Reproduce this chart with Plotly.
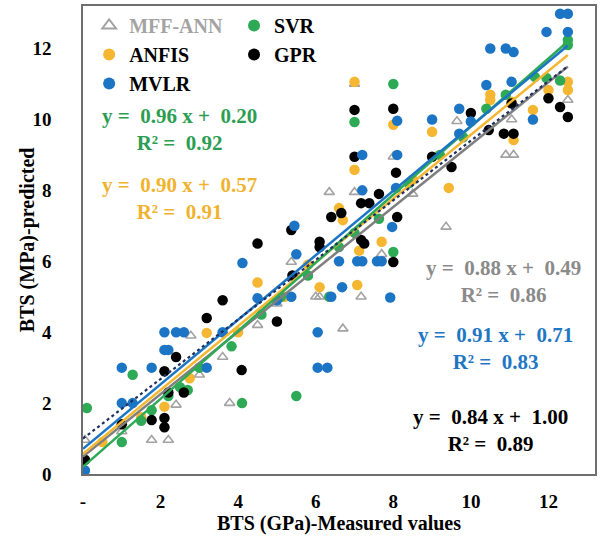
import numpy as np
import plotly.graph_objects as go

# ---------------- data ----------------
MFF_X = [0.05, 1.0, 1.77, 2.2, 2.4, 3.0, 3.78, 2.78, 3.6, 4.5, 5.0, 5.37, 6.0, 6.1, 6.35, 6.7, 7.0, 7.0, 7.17, 7.7, 8.0, 8.5, 9.36, 9.64, 10.9, 11.05, 11.1, 12.5]
MFF_Y = [0.96, 1.2, 0.96, 0.96, 1.95, 2.8, 2.0, 3.9, 3.3, 4.2, 4.8, 5.98, 5.0, 5.0, 7.95, 4.1, 7.95, 11.0, 5.0, 6.2, 8.95, 7.9, 6.97, 9.95, 9.0, 10.0, 9.0, 10.55]

SVR_X = [0.1, 1.0, 1.28, 1.77, 2.5, 2.7, 3.83, 4.1, 5.5, 3.0, 4.6, 5.1, 5.8, 6.35, 6.6, 7.0, 7.63, 8.0, 7.0, 8.0, 8.4, 9.2, 9.8, 10.4, 10.9, 11.65, 11.95, 12.3, 12.5, 12.5, 1.5, 2.2]
SVR_Y = [1.86, 0.9, 2.8, 1.8, 2.45, 2.37, 3.6, 2.0, 2.2, 3.0, 4.5, 5.0, 5.6, 5.0, 6.4, 6.8, 7.2, 6.26, 9.93, 11.0, 8.2, 9.0, 9.5, 10.3, 10.7, 11.2, 11.17, 11.1, 12.24, 12.1, 1.5, 2.2]

ANFIS_X = [0.5, 1.5, 2.1, 2.75, 3.19, 4.0, 4.5, 5.2, 5.8, 6.1, 6.6, 6.7, 7.0, 7.0, 7.07, 7.12, 7.7, 8.0, 8.5, 9.0, 9.43, 10.5, 10.5, 11.05, 11.1, 11.6, 12.0, 12.5, 12.5]
ANFIS_Y = [0.9, 1.6, 1.9, 2.7, 3.98, 4.0, 5.4, 5.0, 5.9, 5.27, 7.5, 7.16, 11.06, 8.58, 5.33, 6.3, 6.55, 9.85, 8.3, 9.65, 8.07, 10.7, 10.55, 10.5, 9.42, 10.27, 10.83, 11.06, 10.83]

GPR_X = [0.05, 1.0, 1.77, 2.1, 2.1, 2.2, 2.6, 2.1, 2.4, 3.19, 3.6, 4.09, 4.5, 5.0, 5.37, 5.4, 6.1, 6.1, 6.4, 6.66, 7.0, 8.0, 7.0, 8.07, 7.63, 7.17, 7.38, 8.1, 7.17, 7.25, 8.0, 9.0, 9.5, 10.0, 10.46, 10.85, 11.1, 11.05, 12.0, 12.3, 12.5]
GPR_Y = [0.4, 1.4, 1.52, 1.58, 1.32, 2.3, 2.3, 2.9, 3.3, 4.4, 4.9, 2.93, 6.5, 4.3, 6.88, 5.6, 6.55, 6.4, 7.25, 7.36, 10.27, 10.3, 8.95, 8.5, 7.9, 7.64, 7.64, 7.25, 6.6, 6.5, 5.98, 8.95, 8.66, 10.18, 9.7, 9.6, 9.6, 10.45, 10.6, 10.35, 10.07]

MVLR_X = [0.05, 1.0, 1.0, 1.28, 1.77, 2.1, 2.4, 2.6, 3.6, 2.1, 2.2, 3.19, 4.11, 4.5, 5.0, 5.5, 5.45, 6.05, 6.05, 6.3, 5.37, 6.4, 6.68, 6.6, 7.07, 7.2, 7.58, 7.7, 7.97, 7.92, 7.2, 8.07, 7.2, 8.1, 8.1, 9.0, 9.7, 10.0, 9.7, 10.4, 11.05, 10.5, 10.9, 11.1, 11.6, 11.95, 12.3, 12.5, 12.5]
MVLR_Y = [0.1, 3.0, 2.0, 2.0, 3.0, 4.0, 4.0, 4.0, 4.0, 3.5, 3.5, 3.0, 5.95, 4.96, 4.9, 6.2, 7.0, 4.0, 3.0, 3.0, 5.0, 5.0, 5.27, 6.0, 6.0, 6.0, 6.0, 6.0, 6.97, 4.98, 8.0, 8.07, 9.0, 9.0, 9.96, 10.0, 10.3, 9.94, 9.6, 10.97, 11.06, 12.0, 12.0, 11.9, 10.0, 12.47, 12.98, 12.98, 12.47]

# trendline coefficients (as printed on the chart)
MODELS = ["MFF-ANN", "SVR", "ANFIS", "GPR", "MVLR"]
SLOPES = [0.88, 0.96, 0.90, 0.84, 0.91]
INTERCEPTS = [0.49, 0.20, 0.57, 1.00, 0.71]
R2 = [0.86, 0.92, 0.91, 0.89, 0.83]
FIT_RANGE = [0.0, 12.5]

X_TICKS = [0, 2, 4, 6, 8, 10, 12]
X_TICKTEXT = ["-", "2", "4", "6", "8", "10", "12"]
Y_TICKS = [0, 2, 4, 6, 8, 10, 12]

# ---------------- styles ----------------
FONT = "Liberation Serif, Times New Roman, serif"
COL = {
    "MFF-ANN": "#a3a3a3",
    "SVR": "#2eaa57",
    "ANFIS": "#f5b731",
    "GPR": "#000000",
    "MVLR": "#1c75c4",
}
TXT_COL = {
    "MFF-ANN": "#8a8a8a",
    "SVR": "#2c9e52",
    "ANFIS": "#f0b330",
    "GPR": "#000000",
    "MVLR": "#1f77c4",
}
LINE_COL = {
    "MFF-ANN": "#7f7f7f",
    "SVR": "#2eaa57",
    "ANFIS": "#f5b731",
    "GPR": "#1f2f5f",
    "MVLR": "#1c75c4",
}

fig = go.Figure()

data = {
    "MFF-ANN": (MFF_X, MFF_Y),
    "SVR": (SVR_X, SVR_Y),
    "ANFIS": (ANFIS_X, ANFIS_Y),
    "GPR": (GPR_X, GPR_Y),
    "MVLR": (MVLR_X, MVLR_Y),
}

legend_of = {"MFF-ANN": "legend", "ANFIS": "legend", "MVLR": "legend", "SVR": "legend2", "GPR": "legend2"}
rank_of = {"MFF-ANN": 1, "ANFIS": 2, "MVLR": 3, "SVR": 1, "GPR": 2}

draw_order = ["MFF-ANN", "ANFIS", "SVR", "GPR", "MVLR"]
for name in draw_order:
    xs, ys = data[name]
    if name == "MFF-ANN":
        marker = dict(symbol="triangle-up-open", size=9, color=COL[name], line=dict(width=1.6, color=COL[name]))
        label = '<span style="color:#a3a3a3">MFF-ANN</span>'
    else:
        marker = dict(symbol="circle", size=10.5, color=COL[name], line=dict(width=0))
        label = name
    fig.add_trace(go.Scatter(
        x=xs, y=ys, mode="markers", marker=marker, name=label,
        legend=legend_of[name], legendrank=rank_of[name],
    ))

# trendlines
line_order = ["MFF-ANN", "ANFIS", "SVR", "MVLR", "GPR"]
xf = np.array(FIT_RANGE)
for name in line_order:
    i = MODELS.index(name)
    yf = SLOPES[i] * xf + INTERCEPTS[i]
    fig.add_trace(go.Scatter(
        x=xf, y=yf, mode="lines", showlegend=False, hoverinfo="skip",
        line=dict(color=LINE_COL[name], width=2.5 if name != "GPR" else 2.2,
                  dash="dot" if name == "GPR" else "solid"),
    ))

# equation labels
eq_pos = {
    "SVR": (2.49, 9.72),
    "ANFIS": (2.49, 7.76),
    "MFF-ANN": (10.84, 5.43),
    "MVLR": (10.63, 3.53),
    "GPR": (10.5, 1.24),
}
nb = "\u00a0"
for name, (ex, ey) in eq_pos.items():
    i = MODELS.index(name)
    txt = f"y ={nb}{nb}{SLOPES[i]:.2f} x +{nb}{nb}{INTERCEPTS[i]:.2f}<br>R² ={nb}{nb}{R2[i]:.2f}"
    fig.add_annotation(
        x=ex, y=ey, xref="x", yref="y", text=txt, showarrow=False,
        align="center", xanchor="center", yanchor="middle",
        font=dict(family=FONT, size=21, color=TXT_COL[name], weight="bold"),
    )

# y-axis title as a rotated text label
fig.add_annotation(
    x=-0.109, y=0.5, xref="paper", yref="paper", text="BTS (MPa)-predicted",
    showarrow=False, textangle=-90, xanchor="center", yanchor="middle",
    font=dict(family=FONT, size=20, color="#000000", weight="bold"),
)

legend_common = dict(
    orientation="v", bgcolor="rgba(0,0,0,0)", borderwidth=0,
    font=dict(family=FONT, size=20, color="#000000", weight="bold"),
    tracegroupgap=0, itemsizing="constant", yanchor="top", xanchor="left",
    yref="paper", xref="paper",
)

fig.update_layout(
    width=600, height=542,
    margin=dict(l=83, r=3, t=6, b=68),
    paper_bgcolor="white", plot_bgcolor="white",
    legend=dict(x=0.012, y=1.0, **legend_common),
    legend2=dict(x=0.295, y=1.0, **legend_common),
    font=dict(family=FONT, size=19, color="#000000"),
    xaxis=dict(
        range=[0, 13.2], tickvals=X_TICKS, ticktext=X_TICKTEXT,
        showgrid=False, zeroline=False, showline=True, mirror=True,
        linecolor="#6e6e6e", linewidth=1.5,
        ticks="outside", ticklen=9, tickcolor="rgba(0,0,0,0)",
        tickfont=dict(family=FONT, size=19, color="#000000", weight="bold"),
        title=dict(text="BTS (GPa)-Measured values", standoff=2,
                   font=dict(family=FONT, size=20, color="#000000", weight="bold")),
    ),
    yaxis=dict(
        range=[0, 13.2], tickvals=Y_TICKS,
        showgrid=False, zeroline=False, showline=True, mirror=True,
        linecolor="#6e6e6e", linewidth=1.5,
        ticks="outside", ticklen=26, tickcolor="rgba(0,0,0,0)",
        tickfont=dict(family=FONT, size=19, color="#000000", weight="bold"),
    ),
)

fig.write_html("out.html")
